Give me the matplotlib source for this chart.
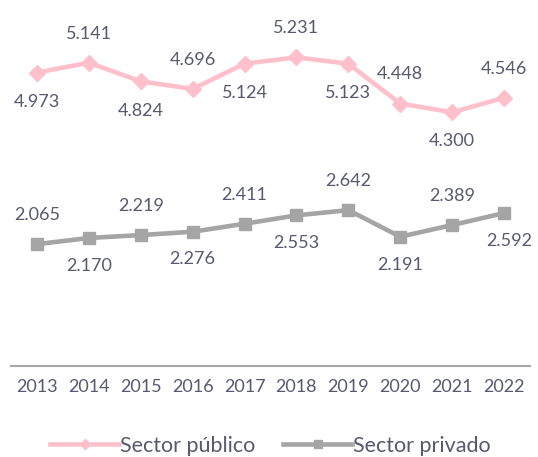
import matplotlib.pyplot as plt

years = ['2013', '2014', '2015', '2016', '2017', '2018', '2019', '2020', '2021', '2022']
publico = [4.973, 5.141, 4.824, 4.696, 5.124, 5.231, 5.123, 4.448, 4.300, 4.546]
privado = [2.065, 2.170, 2.219, 2.276, 2.411, 2.553, 2.642, 2.191, 2.389, 2.592]

pink = '#FFC0CB'
grey = '#A5A5A5'
txt = '#585870'

plt.rcParams['font.family'] = ['Lato', 'DejaVu Sans']

fig = plt.figure(figsize=(5.38, 4.57), dpi=100)
ax = fig.add_axes([11 / 538, 91 / 457, 519 / 538, 354 / 457])

x = list(range(len(years)))
ax.plot(x, publico, color=pink, lw=3.3, marker='D', ms=8, label='Sector público')
ax.plot(x, privado, color=grey, lw=3.3, marker='s', ms=9, label='Sector privado')

# labels alternate above / below the points
for i, v in enumerate(publico):
    dy = 21 if i % 2 else -21
    ax.annotate(f'{v:.3f}', (i, v), xytext=(0, dy), textcoords='offset points',
                ha='center', va='center', fontsize=13, color=txt)
for i, v in enumerate(privado):
    dy = -20 if i % 2 else 21
    dx = 4 if i == len(privado) - 1 else 0
    ax.annotate(f'{v:.3f}', (i, v), xytext=(dx, dy), textcoords='offset points',
                ha='center', va='center', fontsize=13, color=txt)

ax.set_xlim(-0.5, len(years) - 0.5)
ax.set_ylim(0, 6)
ax.set_xticks(x)
ax.set_xticklabels(years, fontsize=13, color=txt)
ax.tick_params(axis='x', length=0, pad=9)
ax.set_yticks([])
for s in ['top', 'right', 'left']:
    ax.spines[s].set_visible(False)
ax.spines['bottom'].set_color('#A6A6A6')
ax.spines['bottom'].set_linewidth(1.5)

leg = ax.legend(loc='center', bbox_to_anchor=(0.5, -0.225), ncol=2, frameon=False,
                fontsize=15.5, handlelength=3.2, handletextpad=0.05, columnspacing=1.3,
                markerscale=0.6)
for t in leg.get_texts():
    t.set_color(txt)

fig.savefig('out.png', dpi=100)
